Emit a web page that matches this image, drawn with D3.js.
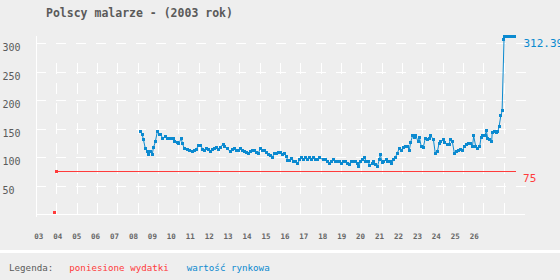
<!DOCTYPE html>
<html>
<head>
<meta charset="utf-8">
<script src="https://cdn.jsdelivr.net/npm/d3@7"></script>
<style>
  html, body { margin: 0; padding: 0; background: #eeeeee; }
  svg { display: block; }
  text { font-family: "DejaVu Sans Mono", monospace; }
</style>
</head>
<body>
<div id="chart"></div>
<script>
// year positions on the axis (two-digit labels)
var xTickValues = d3.range(3, 27);
var yTickValues = [50, 100, 150, 200, 250, 300];

// poniesione wydatki
var costT = [3.84, 3.95, 28.24];
var costValue = [3, 75, 75];

// wartosc rynkowa
var marketT = [8.39, 8.49, 8.55, 8.65, 8.76, 8.81, 8.92, 9.02, 9.08, 9.18,
  9.29, 9.39, 9.47, 9.57, 9.71, 9.81, 9.92, 10.03, 10.13, 10.22,
  10.33, 10.43, 10.55, 10.61, 10.71, 10.87, 10.98, 11.14, 11.24, 11.35,
  11.45, 11.58, 11.69, 11.79, 11.87, 11.98, 12.09, 12.19, 12.30, 12.40,
  12.51, 12.61, 12.76, 12.86, 12.98, 13.14, 13.25, 13.35, 13.46, 13.57,
  13.67, 13.78, 13.88, 13.99, 14.09, 14.20, 14.31, 14.41, 14.52, 14.62,
  14.73, 14.83, 14.94, 15.04, 15.15, 15.26, 15.36, 15.47, 15.57, 15.68,
  15.78, 15.89, 16.00, 16.10, 16.18, 16.28, 16.39, 16.49, 16.60, 16.70,
  16.81, 16.91, 17.02, 17.13, 17.23, 17.34, 17.44, 17.55, 17.65, 17.76,
  17.87, 18.06, 18.16, 18.27, 18.37, 18.48, 18.58, 18.69, 18.80, 18.90,
  19.01, 19.11, 19.22, 19.32, 19.43, 19.53, 19.64, 19.75, 19.85, 19.93,
  20.03, 20.14, 20.22, 20.31, 20.42, 20.52, 20.63, 20.73, 20.82, 20.91,
  21.01, 21.07, 21.16, 21.26, 21.37, 21.47, 21.58, 21.68, 21.75, 21.86,
  21.96, 22.07, 22.18, 22.28, 22.39, 22.49, 22.60, 22.67, 22.78, 22.88,
  22.95, 23.06, 23.13, 23.23, 23.34, 23.44, 23.55, 23.66, 23.73, 23.87,
  23.97, 24.08, 24.17, 24.27, 24.38, 24.48, 24.59, 24.70, 24.76, 24.87,
  24.98, 25.08, 25.19, 25.29, 25.40, 25.50, 25.61, 25.72, 25.82, 25.93,
  26.00, 26.11, 26.21, 26.32, 26.39, 26.49, 26.60, 26.67, 26.74, 26.85,
  26.95, 26.98, 27.09, 27.19, 27.27, 27.34, 27.43, 27.50, 27.60, 27.65,
  27.76, 27.86, 27.97, 28.07, 28.15];
var marketValue = [145.1, 139.2, 131.1, 115.3, 109.3, 104.8, 109.3, 104.8, 116.4, 126.4,
  145.1, 139.9, 139.2, 132.9, 136.4, 132.9, 132.9, 132.9, 132.2, 126.9,
  125.8, 124.1, 132.9, 124.1, 115.3, 113.5, 110.6, 109.3, 110.6, 113.5,
  119.9, 119.9, 113.5, 112.3, 115.3, 113.5, 109.3, 113.5, 115.3, 117.1,
  113.5, 117.1, 122.3, 118.1, 115.3, 109.3, 113.5, 114.1, 112.3, 110.6,
  115.3, 112.3, 109.3, 108.3, 106.5, 109.3, 112.3, 110.6, 108.3, 106.5,
  115.3, 112.3, 111.1, 107.6, 104.8, 103.5, 99.5, 106.5, 106.5, 107.6,
  108.3, 104.8, 106.5, 101.3, 94.2, 94.2, 97.8, 93.0, 93.0, 88.3,
  96.0, 98.8, 94.8, 98.8, 96.0, 98.8, 94.8, 98.8, 96.0, 94.8,
  98.8, 94.8, 96.0, 91.8, 89.0, 91.8, 96.0, 91.8, 93.0, 91.8,
  89.0, 91.8, 93.0, 89.0, 87.2, 93.0, 91.8, 93.0, 89.0, 84.2,
  93.0, 96.0, 100.0, 93.0, 91.8, 84.8, 89.0, 91.8, 87.2, 83.0,
  94.8, 104.8, 90.0, 93.0, 94.8, 91.8, 93.0, 89.0, 94.8, 99.5,
  106.5, 115.3, 112.3, 117.1, 119.3, 119.3, 112.3, 125.8, 138.6, 133.9,
  136.9, 126.9, 134.6, 118.1, 117.1, 132.9, 131.6, 132.9, 136.9, 131.1,
  106.5, 109.3, 124.1, 126.9, 131.1, 125.8, 121.1, 121.1, 131.6, 126.9,
  106.5, 109.3, 112.3, 113.5, 111.1, 118.1, 121.1, 124.1, 124.1, 118.1,
  136.9, 118.1, 114.1, 119.3, 134.6, 136.9, 138.6, 145.7, 132.9, 131.6,
  128.1, 143.4, 144.4, 143.4, 144.4, 153.2, 172.0, 180.8, 305.4, 312.39,
  312.39, 312.39, 312.39, 312.39, 312.39];

var width = 560, height = 280;
var red = "#ff3b3b", blue = "#0b8ad0", grey = "#5a5a5a";

var svg = d3.select("#chart").append("svg")
    .attr("width", width)
    .attr("height", height);

svg.append("rect").attr("width", width).attr("height", height).attr("fill", "#eeeeee");

// plot box
var plotLeft = 36, plotRight = 526, plotTop = 36, plotBottom = 214;

var x = d3.scaleLinear().domain([3, 26]).range([38.3, 473.7]);
var y = d3.scaleLinear().domain([0, d3.max(marketValue)]).range([plotBottom, plotTop]);

// title
svg.append("text")
    .attr("x", 46).attr("y", 16.5)
    .attr("font-size", "11.5px").attr("font-weight", "bold")
    .attr("fill", grey)
    .text("Polscy malarze - (2003 rok)");

var grid = svg.append("g").attr("stroke", "#ffffff").attr("stroke-width", 1)
    .attr("shape-rendering", "crispEdges");

// vertical dashed gridlines, evenly spread over the plot
var vStep = (plotRight - 2 - plotLeft) / 24;
grid.selectAll("line.v").data(d3.range(1, 24)).enter().append("line")
    .attr("class", "v")
    .attr("x1", function(d) { return Math.round(plotLeft + d * vStep) + 0.5; })
    .attr("x2", function(d) { return Math.round(plotLeft + d * vStep) + 0.5; })
    .attr("y1", plotBottom).attr("y2", 63)
    .attr("stroke-dasharray", "11,9");

// horizontal dashed gridlines
grid.selectAll("line.h").data(yTickValues).enter().append("line")
    .attr("class", "h")
    .attr("x1", plotLeft).attr("x2", plotRight)
    .attr("y1", function(d) { return Math.round(y(d)) + 0.5; })
    .attr("y2", function(d) { return Math.round(y(d)) + 0.5; })
    .attr("stroke-dasharray", "10,10");

// axis lines
grid.append("line").attr("x1", plotLeft + 0.5).attr("x2", plotLeft + 0.5)
    .attr("y1", plotTop).attr("y2", plotBottom + 3);
grid.append("line").attr("x1", plotLeft).attr("x2", plotRight - 1)
    .attr("y1", plotBottom + 0.5).attr("y2", plotBottom + 0.5);

// y labels
svg.append("g").selectAll("text").data(yTickValues).enter().append("text")
    .attr("x", 2.5)
    .attr("y", function(d) { return y(d) + 8; })
    .attr("font-size", "10px")
    .attr("fill", grey)
    .text(function(d) { return d; });

// x labels
var xAxis = d3.axisBottom(x)
    .tickValues(xTickValues)
    .tickFormat(d3.format("02d"))
    .tickSize(0)
    .tickPadding(0);
var gx = svg.append("g").attr("transform", "translate(0,234)").call(xAxis);
gx.select(".domain").remove();
gx.selectAll("text")
    .attr("font-family", "DejaVu Sans Mono, monospace")
    .attr("font-size", "7.5px")
    .attr("font-weight", "bold")
    .attr("fill", "#666666");

// cost series
var costPts = costT.map(function(t, i) { return [t, costValue[i]]; });
var line = d3.line().x(function(d) { return x(d[0]); }).y(function(d) { return y(d[1]); });

svg.append("path")
    .datum(costPts.slice(1))
    .attr("d", line)
    .attr("fill", "none")
    .attr("stroke", red)
    .attr("stroke-width", 1)
    .attr("shape-rendering", "crispEdges");

svg.append("g").selectAll("rect").data(costPts.slice(0, 2)).enter().append("rect")
    .attr("x", function(d) { return x(d[0]) - 1.5; })
    .attr("y", function(d) { return y(d[1]) - 1.5; })
    .attr("width", 3).attr("height", 3)
    .attr("fill", red)
    .attr("shape-rendering", "crispEdges");

// market series
var marketPts = marketT.map(function(t, i) { return [t, marketValue[i]]; });

svg.append("path")
    .datum(marketPts)
    .attr("d", line)
    .attr("fill", "none")
    .attr("stroke", blue)
    .attr("stroke-width", 1);

svg.append("g").selectAll("rect").data(marketPts).enter().append("rect")
    .attr("x", function(d) { return x(d[0]) - 1.5; })
    .attr("y", function(d) { return y(d[1]) - 1.5; })
    .attr("width", 3).attr("height", 3)
    .attr("fill", blue)
    .attr("shape-rendering", "crispEdges");

// end labels
var lastCost = costPts[costPts.length - 1];
var lastMarket = marketPts[marketPts.length - 1];
svg.append("text")
    .attr("x", x(lastMarket[0]) + 9).attr("y", y(lastMarket[1]) + 11)
    .attr("font-size", "11px").attr("fill", blue)
    .text(lastMarket[1]);
svg.append("text")
    .attr("x", x(lastCost[0]) + 7).attr("y", y(lastCost[1]) + 11)
    .attr("font-size", "11px").attr("fill", red)
    .text(lastCost[1]);

// legend
svg.append("rect").attr("x", 0).attr("y", 250).attr("width", width).attr("height", 3)
    .attr("fill", "#ffffff");
var legend = svg.append("g").attr("font-size", "9.2px");
legend.append("text").attr("x", 9).attr("y", 270.5).attr("fill", grey).text("Legenda:");
legend.append("text").attr("x", 69.3).attr("y", 270.5).attr("fill", red).text("poniesione wydatki");
legend.append("text").attr("x", 186.7).attr("y", 270.5).attr("fill", blue).text("wartość rynkowa");
</script>
</body>
</html>
